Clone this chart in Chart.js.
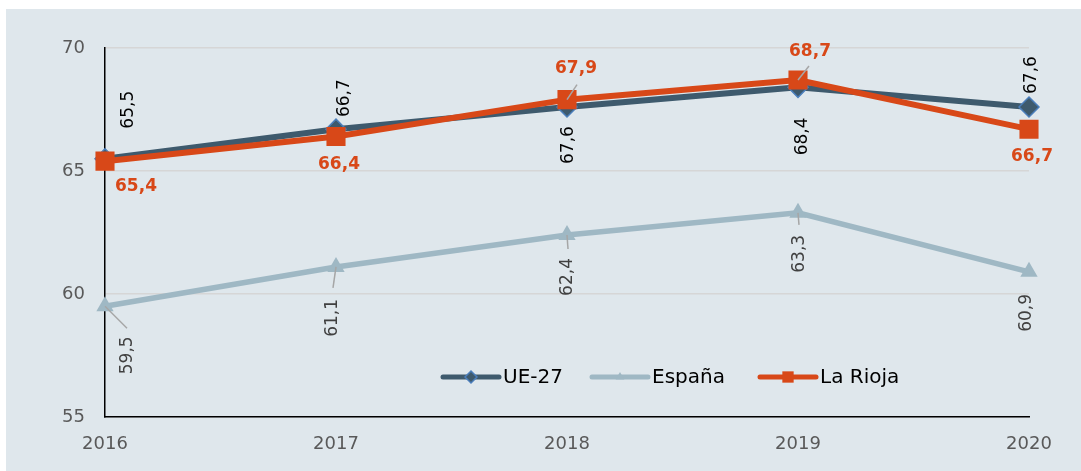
<!DOCTYPE html>
<html><head><meta charset="utf-8">
<script src="https://cdn.jsdelivr.net/npm/chart.js@4.4.0/dist/chart.umd.min.js"></script>
<style>
html,body{margin:0;padding:0;background:#fff;width:1081px;height:471px;overflow:hidden}
#wrap{position:absolute;left:6px;top:9px;width:1075px;height:462px;background:#dfe7ec}
</style></head><body>
<div id="wrap"><canvas id="c" width="1075" height="462"></canvas></div>
<script>
const years = ['2016','2017','2018','2019','2020'];
const ue27 = [65.5, 66.7, 67.6, 68.4, 67.6];
const espana = [59.5, 61.1, 62.4, 63.3, 60.9];
const rioja = [65.4, 66.4, 67.9, 68.7, 66.7];
const yTicks = [55, 60, 65, 70];

const FONT = '"DejaVu Sans", sans-serif';
const C_UE = '#3e5a6d', C_ES = '#9fb8c4', C_LR = '#d84818';

// label placement (pixel offsets from the point) - styling only
const labelCfg = [
  {color:'#000', bold:false, rot:true,
   off:[[24,-49],[9,-31],[2,38],[5,49],[3,-32]], lead:[null,null,null,null,null]},
  {color:'#404040', bold:false, rot:true,
   off:[[23,49],[-3,51],[1,42],[2,41],[-2,41]], lead:[[22,22],[-3,21],[1,14],[1,12],null]},
  {color:C_LR, bold:true, rot:false,
   off:[[31,25],[3,28],[9,-31],[12,-28],[3,27]], lead:[null,null,[10,-15],[11,-14],null]}
];
const legendMarkerRadius = [6, 5, 8];

const fmt = v => v.toFixed(1).replace('.', ',');

const labelPlugin = {
  id:'labels',
  afterDatasetsDraw(chart){
    const ctx = chart.ctx;
    chart.data.datasets.forEach((ds, di) => {
      const meta = chart.getDatasetMeta(di);
      const cfg = labelCfg[di];
      meta.data.forEach((pt, i) => {
        const [dx, dy] = cfg.off[i];
        const ld = cfg.lead[i];
        ctx.save();
        if (ld){
          ctx.strokeStyle = '#a6a6a6'; ctx.lineWidth = 1.5;
          ctx.beginPath(); ctx.moveTo(pt.x, pt.y); ctx.lineTo(pt.x+ld[0], pt.y+ld[1]); ctx.stroke();
        }
        ctx.fillStyle = cfg.color;
        ctx.font = (cfg.bold ? 'bold ' : '') + '17px ' + FONT;
        ctx.textAlign = 'center'; ctx.textBaseline = 'middle';
        ctx.translate(pt.x+dx, pt.y+dy);
        if (cfg.rot) ctx.rotate(-Math.PI/2);
        ctx.fillText(fmt(ds.data[i]), 0, 0);
        ctx.restore();
      });
    });
    // legend
    const ly = 368;
    const items = [
      {x:437, text:'UE-27', ds:0},
      {x:586, text:'España', ds:1},
      {x:754, text:'La Rioja', ds:2}
    ];
    items.forEach(it => {
      const ds = chart.data.datasets[it.ds];
      ctx.save();
      ctx.strokeStyle = ds.borderColor; ctx.lineWidth = 5; ctx.lineCap = 'round';
      ctx.beginPath(); ctx.moveTo(it.x, ly); ctx.lineTo(it.x+56, ly); ctx.stroke();
      ctx.fillStyle = ds.pointBackgroundColor; ctx.strokeStyle = ds.pointBorderColor;
      ctx.lineWidth = ds.pointBorderWidth || 0;
      Chart.helpers.drawPoint(ctx, {pointStyle: ds.pointStyle, radius: legendMarkerRadius[it.ds], borderWidth: ds.pointBorderWidth||0, rotation:0}, it.x+28, ly);
      ctx.fillStyle = '#000'; ctx.font = '20px ' + FONT;
      ctx.textAlign = 'left'; ctx.textBaseline = 'middle';
      ctx.fillText(it.text, it.x+60, ly+1);
      ctx.restore();
    });
  }
};

new Chart(document.getElementById('c'), {
  type:'line',
  data:{
    labels: years,
    datasets:[
      {label:'UE-27', data:ue27, borderColor:C_UE, borderWidth:6, pointStyle:'rectRot', pointRadius:10,
       pointBackgroundColor:C_UE, pointBorderColor:'#4a7ebb', pointBorderWidth:1.5, tension:0, order:3},
      {label:'España', data:espana, borderColor:C_ES, borderWidth:5.5, pointStyle:'triangle', pointRadius:10,
       pointBackgroundColor:C_ES, pointBorderColor:C_ES, pointBorderWidth:0, tension:0, order:2},
      {label:'La Rioja', data:rioja, borderColor:C_LR, borderWidth:6, pointStyle:'rect', pointRadius:13.5,
       pointBackgroundColor:C_LR, pointBorderColor:C_LR, pointBorderWidth:0, tension:0, order:1}
    ]
  },
  options:{
    responsive:false, animation:false,
    layout:{padding:{left:0, top:39, right:52, bottom:0}},
    plugins:{legend:{display:false}, tooltip:{enabled:false}},
    scales:{
      x:{offset:false,
         grid:{color:'rgba(0,0,0,0)', drawTicks:false},
         border:{color:'#000', width:1.5},
         ticks:{padding:17, color:'#595959', font:{family:FONT, size:18}, maxRotation:0},
         afterFit(s){ s.height = 54; }},
      y:{min:55, max:70,
         afterBuildTicks(s){ s.ticks = yTicks.map(v => ({value:v})); },
         grid:{color:'#d6d6d6', lineWidth:1.5, drawTicks:false},
         border:{color:'#000', width:1.5},
         ticks:{padding:20, color:'#595959', font:{family:FONT, size:18}},
         afterFit(s){ s.width = 99; }}
    }
  },
  plugins:[labelPlugin]
});
</script></body></html>
